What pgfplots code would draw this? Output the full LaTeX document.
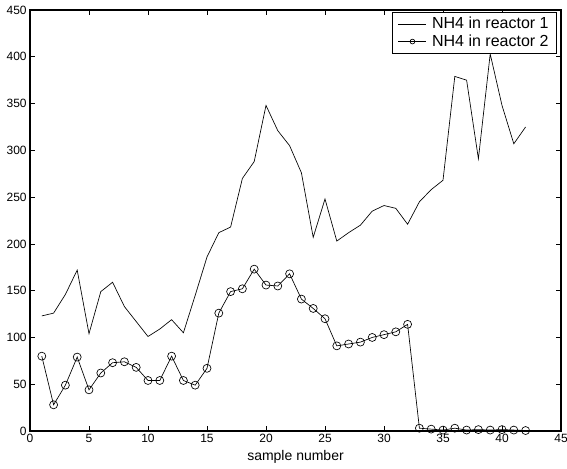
\documentclass[border=0pt]{standalone}
\usepackage{fontspec}
\setmainfont{Liberation Sans}
\usepackage{pgfplots}
\pgfplotsset{compat=1.18}

\begin{document}
\begin{tikzpicture}
\begin{axis}[
    scale only axis,
    width=398.25pt,
    height=315.75pt,
    xmin=0, xmax=45,
    ymin=0, ymax=450,
    xtick={0,5,...,45},
    ytick={0,50,...,450},
    tick align=inside,
    major tick length=3.75pt,
    tick style={black, line width=0.5pt},
    axis line style={line width=0.8pt},
    ticklabel style={font=\fontsize{9}{10}\selectfont},
    /pgf/number format/assume math mode=true,
    xticklabel style={yshift=1pt},
    yticklabel style={xshift=1pt},
    xlabel={sample number},
    xlabel style={font=\fontsize{10.5}{12}\selectfont, yshift=1pt},
    legend cell align=left,
    legend image code/.code={%
        \draw[mark repeat=2, mark phase=2, #1]
            plot coordinates {(0pt,0pt) (10.5pt,0pt) (21pt,0pt)};
    },
    legend style={
        at={(rel axis cs:0.9925,0.995)},
        anchor=north east,
        font=\fontsize{12}{12}\selectfont,
        draw=black, line width=0.6pt,
        inner xsep=4pt, inner ysep=1.5pt,
        row sep=-1pt,
        /tikz/every odd column/.append style={column sep=2pt},
    },
    legend image post style={mark size=1.8pt},
    clip=false,
]

% reactor 1
\addplot[black, line width=0.5pt] coordinates {
    (1,123) (2,126) (3,146) (4,172) (5,104) (6,149) (7,159) (8,133)
    (9,117) (10,101) (11,109) (12,119) (13,105) (14,145) (15,186) (16,212)
    (17,218) (18,270) (19,288) (20,348) (21,321) (22,305) (23,276) (24,207)
    (25,248) (26,203) (27,212) (28,220) (29,235) (30,241) (31,238) (32,221)
    (33,245) (34,258) (35,268) (36,379) (37,375) (38,291) (39,403) (40,348)
    (41,307) (42,325)
};
\addlegendentry{NH4 in reactor 1}

% reactor 2
\addplot[black, line width=0.5pt, mark=o, mark size=3pt,
    mark options={line width=0.5pt, fill=none}] coordinates {
    (1,80) (2,28) (3,49) (4,79) (5,44) (6,62) (7,73) (8,74)
    (9,68) (10,54) (11,54) (12,80) (13,54) (14,49) (15,67) (16,126)
    (17,149) (18,152) (19,173) (20,156) (21,155) (22,168) (23,141) (24,131)
    (25,120) (26,91) (27,93) (28,95) (29,100) (30,103) (31,106) (32,114)
    (33,3) (34,2) (35,1) (36,3) (37,1) (38,1.5) (39,1) (40,1.5)
    (41,1) (42,0.5)
};
\addlegendentry{NH4 in reactor 2}

\coordinate (bl) at (rel axis cs:0,0);
\coordinate (tr) at (rel axis cs:1,1);
\end{axis}
\pgfresetboundingbox
\path ([shift={(-22.5pt,-27.75pt)}]bl) rectangle ([shift={(4.5pt,7.5pt)}]tr);
\end{tikzpicture}
\end{document}
